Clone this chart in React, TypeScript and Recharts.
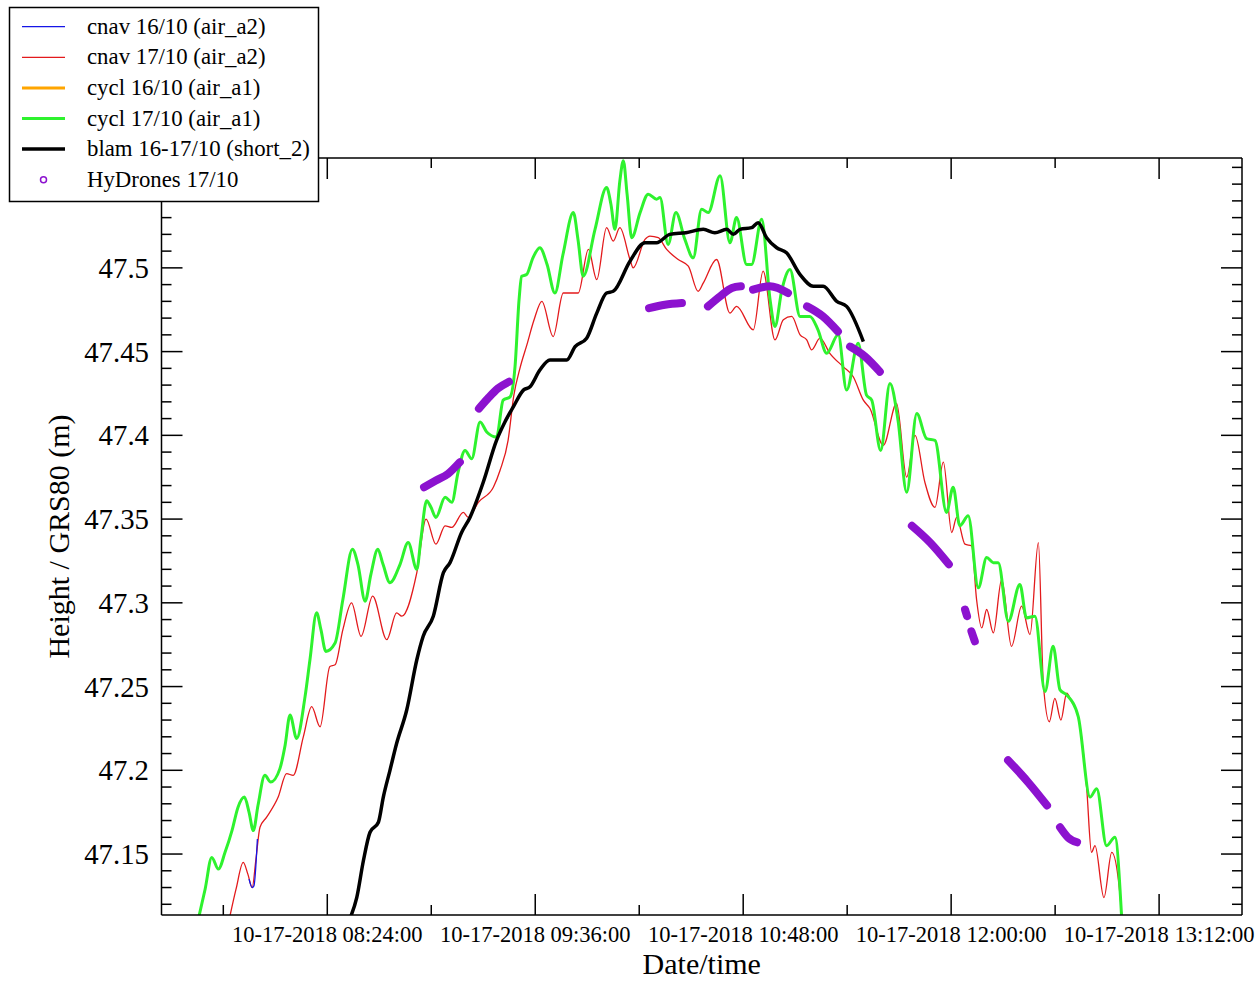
import React from 'react';
import { LineChart, Line, XAxis, YAxis } from 'recharts';

const SERIF = '"Liberation Serif", "Times New Roman", Times, serif';

// time = minutes after 00:00 on 10-17-2018, height = m above GRS80
const cnav16: [number, number][] = [
  [476.9, 47.135], [478.0, 47.13], [478.6, 47.131], [479.8, 47.159],
];

const cnav17: [number, number][] = [
  [470.3, 47.113], [472.4, 47.129], [474.9, 47.145], [476.5, 47.138], [478.0, 47.13],
  [479.3, 47.147], [480.7, 47.166], [483.0, 47.172], [487.0, 47.184], [489.9, 47.198],
  [492.2, 47.197], [495.7, 47.22], [498.6, 47.238], [501.5, 47.226], [504.9, 47.262],
  [506.7, 47.263], [509.4, 47.284], [512.4, 47.3], [515.7, 47.28], [519.7, 47.304],
  [524.6, 47.278], [528.0, 47.294], [529.8, 47.292], [535.0, 47.318], [538.2, 47.35],
  [541.6, 47.335], [544.8, 47.346], [547.1, 47.345], [551.1, 47.354], [552.8, 47.351],
  [556.3, 47.36], [561.5, 47.369], [563.8, 47.379], [566.6, 47.397], [568.6, 47.424],
  [570.7, 47.44], [573.1, 47.454], [575.6, 47.469], [578.3, 47.48], [582.2, 47.459],
  [585.7, 47.485], [590.9, 47.485], [594.4, 47.511], [597.3, 47.493], [600.7, 47.524],
  [603.0, 47.516], [605.3, 47.524], [608.8, 47.505], [609.9, 47.5], [614.0, 47.517],
  [615.7, 47.519], [618.6, 47.518], [621.5, 47.511], [625.5, 47.505], [629.0, 47.501],
  [632.4, 47.486], [634.2, 47.491], [638.8, 47.505], [643.4, 47.473], [645.7, 47.477],
  [651.5, 47.463], [654.9, 47.498], [659.0, 47.457], [661.9, 47.469], [664.8, 47.471],
  [667.7, 47.46], [670.0, 47.457], [671.7, 47.451], [674.6, 47.458], [678.0, 47.449],
  [682.6, 47.441], [686.1, 47.435], [689.6, 47.421], [691.9, 47.416], [696.5, 47.394],
  [701.1, 47.419], [704.6, 47.375], [707.5, 47.4], [710.9, 47.372], [714.4, 47.357],
  [717.3, 47.384], [720.2, 47.342], [721.9, 47.351], [724.8, 47.335], [727.1, 47.334],
  [728.8, 47.302], [730.6, 47.285], [732.3, 47.296], [734.6, 47.282], [737.5, 47.314],
  [740.9, 47.274], [744.4, 47.298], [747.3, 47.281], [750.2, 47.336], [751.9, 47.252],
  [754.0, 47.229], [755.9, 47.243], [758.0, 47.23], [760.0, 47.246], [761.7, 47.241],
  [764.0, 47.232], [766.9, 47.19], [768.6, 47.151], [769.8, 47.155], [772.9, 47.124],
  [775.6, 47.151], [778.2, 47.13], [779.1, 47.113],
];

const cycl17: [number, number][] = [
  [459.6, 47.113], [461.7, 47.129], [464.0, 47.148], [466.3, 47.141], [468.6, 47.151],
  [471.0, 47.164], [473.1, 47.178], [475.3, 47.184], [476.9, 47.175], [478.4, 47.164],
  [480.0, 47.179], [482.4, 47.197], [484.4, 47.193], [487.6, 47.201], [489.4, 47.215],
  [491.1, 47.233], [493.4, 47.219], [496.3, 47.244], [498.0, 47.266], [500.3, 47.294],
  [501.8, 47.284], [503.5, 47.271], [506.7, 47.276], [509.4, 47.302], [512.7, 47.332],
  [514.6, 47.323], [517.1, 47.301], [519.1, 47.317], [521.5, 47.332], [523.3, 47.323],
  [525.7, 47.312], [529.2, 47.323], [532.0, 47.336], [535.0, 47.32], [536.4, 47.338],
  [538.4, 47.361], [539.9, 47.357], [541.6, 47.351], [544.8, 47.363], [547.1, 47.36],
  [549.3, 47.378], [551.7, 47.391], [554.0, 47.386], [556.9, 47.408], [559.2, 47.402],
  [562.6, 47.399], [564.9, 47.421], [567.3, 47.423], [569.0, 47.441], [570.4, 47.481],
  [571.3, 47.495], [573.0, 47.496], [575.2, 47.506], [577.6, 47.512], [580.1, 47.502],
  [582.8, 47.485], [585.6, 47.508], [589.2, 47.533], [590.8, 47.517], [592.6, 47.495],
  [596.7, 47.523], [600.7, 47.548], [602.2, 47.538], [603.6, 47.523], [605.3, 47.552],
  [606.5, 47.564], [607.8, 47.544], [609.4, 47.518], [612.3, 47.533], [615.1, 47.544],
  [618.0, 47.541], [619.2, 47.542], [622.0, 47.514], [624.7, 47.533], [627.8, 47.517],
  [630.7, 47.506], [633.6, 47.535], [635.9, 47.533], [640.0, 47.555], [643.4, 47.515],
  [645.7, 47.53], [649.2, 47.502], [650.9, 47.502], [654.4, 47.529], [657.3, 47.481],
  [659.0, 47.465], [661.4, 47.487], [664.2, 47.499], [667.7, 47.471], [671.1, 47.471],
  [673.9, 47.463], [676.9, 47.449], [680.9, 47.46], [683.8, 47.427], [687.8, 47.455],
  [690.7, 47.424], [692.5, 47.421], [695.6, 47.391], [698.8, 47.431], [701.6, 47.409],
  [704.6, 47.366], [708.1, 47.413], [711.5, 47.398], [714.4, 47.397], [718.4, 47.354],
  [720.7, 47.369], [723.0, 47.346], [725.9, 47.352], [729.4, 47.309], [732.3, 47.327],
  [734.6, 47.324], [736.3, 47.324], [739.8, 47.289], [743.8, 47.311], [746.1, 47.291],
  [749.0, 47.292], [752.5, 47.247], [755.3, 47.274], [757.7, 47.248], [760.0, 47.245],
  [764.0, 47.232], [768.1, 47.184], [770.4, 47.189], [773.8, 47.155], [776.7, 47.16],
  [779.0, 47.113],
];

const blam: [number, number][] = [
  [512.2, 47.113], [514.2, 47.124], [516.5, 47.146], [518.8, 47.163], [521.7, 47.169],
  [523.4, 47.184], [525.7, 47.2], [528.0, 47.216], [531.5, 47.236], [535.0, 47.266],
  [537.2, 47.28], [540.7, 47.292], [544.2, 47.318], [546.5, 47.324], [550.5, 47.342],
  [553.4, 47.351], [558.0, 47.372], [562.6, 47.397], [565.5, 47.408], [568.4, 47.417],
  [571.9, 47.427], [574.2, 47.429], [577.6, 47.439], [581.1, 47.445], [586.9, 47.445],
  [589.8, 47.453], [593.8, 47.458], [597.3, 47.473], [600.7, 47.485], [603.0, 47.486],
  [608.8, 47.504], [614.0, 47.515], [618.0, 47.515], [622.6, 47.52], [628.2, 47.521],
  [634.2, 47.523], [638.2, 47.521], [642.3, 47.523], [644.6, 47.52], [646.9, 47.523],
  [650.9, 47.524], [653.2, 47.527], [656.1, 47.518], [659.6, 47.512], [663.0, 47.509],
  [667.7, 47.496], [672.3, 47.489], [675.7, 47.489], [680.4, 47.48], [683.8, 47.477],
  [689.6, 47.456],
];

// HyDrones 17/10: runs of dense points, gaps between them
const hydrones: [number, number][][] = [
  [[537.5, 47.369], [541.6, 47.373], [545.8, 47.377], [549.9, 47.384]],
  [[556.5, 47.416], [559.6, 47.422], [563.1, 47.428], [566.9, 47.432]],
  [[615.4, 47.476], [620.9, 47.478], [626.8, 47.479]],
  [[635.8, 47.477], [640.0, 47.483], [644.1, 47.488], [647.2, 47.489]],
  [[651.4, 47.487], [657.3, 47.489], [663.5, 47.485]],
  [[670.1, 47.477], [675.6, 47.471], [680.8, 47.462]],
  [[685.0, 47.453], [690.2, 47.447], [695.3, 47.438]],
  [[706.4, 47.346], [712.7, 47.336], [719.2, 47.323]],
  [[724.8, 47.296], [725.5, 47.292]],
  [[727.0, 47.283], [728.2, 47.277]],
  [[739.7, 47.206], [746.6, 47.193], [753.2, 47.179]],
  [[757.7, 47.166], [760.4, 47.16], [763.6, 47.157]],
];

const xDomain = [446.6, 820.7];
const yDomain = [47.1136, 47.5656];
const xTicks = [468, 504, 540, 576, 612, 648, 684, 720, 756, 792];
const xMajor = [504, 576, 648, 720, 792];
const yMajor = [47.15, 47.2, 47.25, 47.3, 47.35, 47.4, 47.45, 47.5];
const yTicks = Array.from({ length: 45 }, (_, i) => +(47.12 + i * 0.01).toFixed(2));

const BLUE = '#1515e6';
const RED = '#e31a1c';
const ORANGE = '#ffa500';
const GREEN = '#2ef22e';
const VIOLET = '#8c12cf';

const legendItems = [
  { name: 'cnav 16/10 (air_a2)', color: BLUE, width: 1.3 },
  { name: 'cnav 17/10 (air_a2)', color: RED, width: 1.3 },
  { name: 'cycl 16/10 (air_a1)', color: ORANGE, width: 3 },
  { name: 'cycl 17/10 (air_a1)', color: GREEN, width: 3 },
  { name: 'blam 16-17/10 (short_2)', color: '#000', width: 3.5 },
  { name: 'HyDrones 17/10', color: VIOLET, width: 0 },
];

const toRows = (pts: [number, number][]) => pts.map(([t, h]) => ({ t, h }));

const isMajorX = (v: number) => xMajor.includes(v);
const isMajorY = (v: number) => yMajor.some((m) => Math.abs(m - v) < 1e-6);

const fmtTime = (m: number) => {
  const hh = String(Math.floor(m / 60)).padStart(2, '0');
  const mm = String(Math.round(m % 60)).padStart(2, '0');
  return `10-17-2018 ${hh}:${mm}:00`;
};
const fmtHeight = (v: number) => String(Number(v.toFixed(2)));

const BottomTick = ({ x, y, payload }: any) => {
  const major = isMajorX(payload.value);
  return (
    <g>
      <line x1={x} y1={y} x2={x} y2={y - (major ? 21 : 10)} stroke="#000" strokeWidth={1.5} />
      {major && (
        <text x={x} y={y + 27} textAnchor="middle" fontSize={22.5} fontFamily={SERIF} fill="#000">
          {fmtTime(payload.value)}
        </text>
      )}
    </g>
  );
};

const TopTick = ({ x, y, payload }: any) => (
  <line x1={x} y1={y} x2={x} y2={y + (isMajorX(payload.value) ? 21 : 10)} stroke="#000" strokeWidth={1.5} />
);

const LeftTick = ({ x, y, payload }: any) => {
  const major = isMajorY(payload.value);
  return (
    <g>
      <line x1={x} y1={y} x2={x + (major ? 21 : 10)} y2={y} stroke="#000" strokeWidth={1.5} />
      {major && (
        <text x={x - 12.5} y={y} dy="0.35em" textAnchor="end" fontSize={28.8} fontFamily={SERIF} fill="#000">
          {fmtHeight(payload.value)}
        </text>
      )}
    </g>
  );
};

const RightTick = ({ x, y, payload }: any) => (
  <line x1={x} y1={y} x2={x - (isMajorY(payload.value) ? 21 : 10)} y2={y} stroke="#000" strokeWidth={1.5} />
);

const frame = { stroke: '#000', strokeWidth: 1.5 };

export default function App() {
  return (
    <div style={{ position: 'absolute', left: 0, top: 0, width: 1260, height: 981, background: '#fff' }}>
      <LineChart width={1260} height={981} margin={{ top: 138, right: 0, bottom: 26, left: 61.5 }}>
        <XAxis
          type="number"
          dataKey="t"
          domain={xDomain}
          ticks={xTicks}
          interval={0}
          allowDataOverflow
          height={40}
          tickSize={0}
          tickMargin={0}
          axisLine={frame}
          tickLine={false}
          tick={(p: any) => <BottomTick {...p} />}
          label={{
            content: ({ viewBox }: any) => (
              <text
                x={viewBox.x + viewBox.width / 2}
                y={viewBox.y + viewBox.height + 19}
                textAnchor="middle"
                fontSize={30}
                fontFamily={SERIF}
                fill="#000"
              >
                Date/time
              </text>
            ),
          }}
        />
        <XAxis
          xAxisId="top"
          orientation="top"
          type="number"
          dataKey="t"
          domain={xDomain}
          ticks={xTicks}
          interval={0}
          allowDataOverflow
          height={20}
          tickSize={0}
          tickMargin={0}
          axisLine={frame}
          tickLine={false}
          tick={(p: any) => <TopTick {...p} />}
        />
        <YAxis
          type="number"
          domain={yDomain}
          ticks={yTicks}
          interval={0}
          allowDataOverflow
          width={100}
          tickSize={0}
          tickMargin={0}
          axisLine={frame}
          tickLine={false}
          tick={(p: any) => <LeftTick {...p} />}
          label={{
            content: ({ viewBox }: any) => {
              const cx = 58;
              const cy = viewBox.y + viewBox.height / 2;
              return (
                <text
                  x={cx}
                  y={cy}
                  transform={`rotate(-90 ${cx} ${cy})`}
                  textAnchor="middle"
                  dominantBaseline="central"
                  fontSize={30}
                  fontFamily={SERIF}
                  fill="#000"
                >
                  Height / GRS80 (m)
                </text>
              );
            },
          }}
        />
        <YAxis
          yAxisId="right"
          orientation="right"
          type="number"
          domain={yDomain}
          ticks={yTicks}
          interval={0}
          allowDataOverflow
          width={18}
          tickSize={0}
          tickMargin={0}
          axisLine={frame}
          tickLine={false}
          tick={(p: any) => <RightTick {...p} />}
        />
        <Line data={toRows(cnav17)} dataKey="h" type="monotone" stroke={RED} strokeWidth={1.3} dot={false} isAnimationActive={false} />
        <Line data={toRows(cnav16)} dataKey="h" type="monotone" stroke={BLUE} strokeWidth={1.3} dot={false} isAnimationActive={false} />
        <Line data={toRows(cycl17)} dataKey="h" type="monotone" stroke={GREEN} strokeWidth={3} dot={false} isAnimationActive={false} />
        <Line data={toRows(blam)} dataKey="h" type="monotone" stroke="#000" strokeWidth={3.5} dot={false} isAnimationActive={false} />
        {hydrones.map((seg, i) => (
          <Line
            key={`hd-${i}`}
            data={toRows(seg)}
            dataKey="h"
            type="monotone"
            stroke={VIOLET}
            strokeWidth={8}
            strokeLinecap="round"
            dot={false}
            isAnimationActive={false}
          />
        ))}
      </LineChart>
      <svg width={330} height={210} style={{ position: 'absolute', left: 0, top: 0 }}>
        <rect x={9.5} y={7.5} width={309} height={194} fill="#fff" stroke="#000" strokeWidth={1.5} />
        {legendItems.map((it, i) => {
          const cy = 26.7 + i * 30.6;
          return (
            <g key={it.name}>
              {it.width > 0 ? (
                <line x1={22} y1={cy} x2={65} y2={cy} stroke={it.color} strokeWidth={it.width} />
              ) : (
                <circle cx={43.5} cy={cy} r={3} fill="none" stroke={it.color} strokeWidth={1.5} />
              )}
              <text x={87} y={cy + 7} fontSize={22.8} fontFamily={SERIF} fill="#000">
                {it.name}
              </text>
            </g>
          );
        })}
      </svg>
    </div>
  );
}
